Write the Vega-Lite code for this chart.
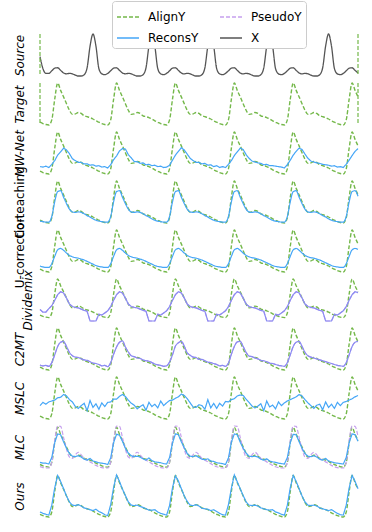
{
"$schema": "https://vega.github.io/schema/vega-lite/v6.json",
"padding": {"left": 12, "top": 0, "right": 5, "bottom": 5},
"bounds": "flush",
"datasets": {
"edges": [{"x": 0}, {"x": 108}],
"main": [
{"x":0,"X":0.48,"A":0.1,"mw":0.2,"co":0.08,"uc":0.17,"dm":0.23,"c2":0.15,"ms":0.33,"ml":0.15,"mp":0.05,"ou":0.15},
{"x":1,"X":0.2,"A":0.07,"mw":0.19,"co":0.07,"uc":0.15,"dm":0.17,"c2":0.13,"ms":0.4,"ml":0.13,"mp":0.03,"ou":0.12},
{"x":2,"X":0.09,"A":0.05,"mw":0.21,"co":0.06,"uc":0.14,"dm":0.17,"c2":0.14,"ms":0.36,"ml":0.13,"mp":0.02,"ou":0.1},
{"x":3,"X":0.09,"A":0.04,"mw":0.18,"co":0.06,"uc":0.14,"dm":0.25,"c2":0.12,"ms":0.41,"ml":0.11,"mp":0.02,"ou":0.08},
{"x":4,"X":0.15,"A":0.15,"mw":0.25,"co":0.18,"uc":0.22,"dm":0.32,"c2":0.2,"ms":0.43,"ml":0.26,"mp":0.15,"ou":0.3},
{"x":5,"X":0.21,"A":0.6,"mw":0.33,"co":0.5,"uc":0.38,"dm":0.45,"c2":0.37,"ms":0.45,"ml":0.6,"mp":0.65,"ou":0.68},
{"x":6,"X":0.22,"A":0.95,"mw":0.45,"co":0.72,"uc":0.52,"dm":0.58,"c2":0.55,"ms":0.5,"ml":0.8,"mp":0.98,"ou":0.95},
{"x":7,"X":0.16,"A":0.79,"mw":0.52,"co":0.74,"uc":0.55,"dm":0.65,"c2":0.64,"ms":0.51,"ml":0.78,"mp":0.97,"ou":0.82},
{"x":8,"X":0.1,"A":0.65,"mw":0.6,"co":0.6,"uc":0.51,"dm":0.62,"c2":0.66,"ms":0.57,"ml":0.62,"mp":0.72,"ou":0.66},
{"x":9,"X":0.08,"A":0.5,"mw":0.56,"co":0.46,"uc":0.45,"dm":0.5,"c2":0.55,"ms":0.54,"ml":0.47,"mp":0.45,"ou":0.5},
{"x":10,"X":0.09,"A":0.36,"mw":0.48,"co":0.34,"uc":0.4,"dm":0.36,"c2":0.42,"ms":0.46,"ml":0.35,"mp":0.27,"ou":0.37},
{"x":11,"X":0.08,"A":0.27,"mw":0.37,"co":0.28,"uc":0.37,"dm":0.3,"c2":0.35,"ms":0.41,"ml":0.29,"mp":0.24,"ou":0.3},
{"x":12,"X":0.05,"A":0.28,"mw":0.33,"co":0.27,"uc":0.35,"dm":0.28,"c2":0.32,"ms":0.31,"ml":0.28,"mp":0.32,"ou":0.29},
{"x":13,"X":0.03,"A":0.31,"mw":0.29,"co":0.28,"uc":0.34,"dm":0.27,"c2":0.31,"ms":0.27,"ml":0.3,"mp":0.38,"ou":0.31},
{"x":14,"X":0.03,"A":0.29,"mw":0.29,"co":0.27,"uc":0.32,"dm":0.24,"c2":0.28,"ms":0.33,"ml":0.27,"mp":0.32,"ou":0.28},
{"x":15,"X":0.06,"A":0.24,"mw":0.26,"co":0.24,"uc":0.3,"dm":0.21,"c2":0.26,"ms":0.38,"ml":0.22,"mp":0.24,"ou":0.24},
{"x":16,"X":0.22,"A":0.22,"mw":0.26,"co":0.2,"uc":0.27,"dm":0.19,"c2":0.25,"ms":0.22,"ml":0.2,"mp":0.2,"ou":0.22},
{"x":17,"X":0.72,"A":0.2,"mw":0.23,"co":0.17,"uc":0.24,"dm":-0.04,"c2":0.22,"ms":0.44,"ml":0.24,"mp":0.16,"ou":0.2},
{"x":18,"X":1.0,"A":0.17,"mw":0.24,"co":0.13,"uc":0.21,"dm":-0.04,"c2":0.19,"ms":0.29,"ml":0.18,"mp":0.12,"ou":0.18},
{"x":19,"X":0.72,"A":0.13,"mw":0.21,"co":0.1,"uc":0.18,"dm":-0.04,"c2":0.18,"ms":0.37,"ml":0.16,"mp":0.08,"ou":0.21},
{"x":20,"X":0.2,"A":0.1,"mw":0.22,"co":0.08,"uc":0.16,"dm":0.12,"c2":0.16,"ms":0.25,"ml":0.14,"mp":0.05,"ou":0.16},
{"x":21,"X":0.08,"A":0.07,"mw":0.19,"co":0.07,"uc":0.15,"dm":0.1,"c2":0.13,"ms":0.39,"ml":0.13,"mp":0.03,"ou":0.13},
{"x":22,"X":0.06,"A":0.05,"mw":0.2,"co":0.06,"uc":0.14,"dm":0.15,"c2":0.14,"ms":0.31,"ml":0.12,"mp":0.02,"ou":0.09},
{"x":23,"X":0.09,"A":0.04,"mw":0.17,"co":0.06,"uc":0.14,"dm":0.2,"c2":0.11,"ms":0.4,"ml":0.1,"mp":0.02,"ou":0.07},
{"x":24,"X":0.15,"A":0.15,"mw":0.24,"co":0.18,"uc":0.22,"dm":0.3,"c2":0.2,"ms":0.41,"ml":0.25,"mp":0.15,"ou":0.31},
{"x":25,"X":0.21,"A":0.6,"mw":0.35,"co":0.5,"uc":0.38,"dm":0.45,"c2":0.38,"ms":0.47,"ml":0.6,"mp":0.65,"ou":0.69},
{"x":26,"X":0.22,"A":0.95,"mw":0.43,"co":0.72,"uc":0.52,"dm":0.58,"c2":0.54,"ms":0.47,"ml":0.79,"mp":0.98,"ou":0.96},
{"x":27,"X":0.16,"A":0.79,"mw":0.54,"co":0.74,"uc":0.55,"dm":0.65,"c2":0.64,"ms":0.53,"ml":0.77,"mp":0.97,"ou":0.82},
{"x":28,"X":0.1,"A":0.65,"mw":0.59,"co":0.6,"uc":0.51,"dm":0.62,"c2":0.67,"ms":0.57,"ml":0.63,"mp":0.72,"ou":0.65},
{"x":29,"X":0.08,"A":0.5,"mw":0.58,"co":0.46,"uc":0.45,"dm":0.5,"c2":0.54,"ms":0.53,"ml":0.47,"mp":0.45,"ou":0.51},
{"x":30,"X":0.09,"A":0.36,"mw":0.46,"co":0.34,"uc":0.4,"dm":0.36,"c2":0.43,"ms":0.45,"ml":0.36,"mp":0.27,"ou":0.37},
{"x":31,"X":0.08,"A":0.27,"mw":0.39,"co":0.28,"uc":0.37,"dm":0.3,"c2":0.35,"ms":0.38,"ml":0.3,"mp":0.24,"ou":0.3},
{"x":32,"X":0.05,"A":0.28,"mw":0.31,"co":0.27,"uc":0.35,"dm":0.28,"c2":0.33,"ms":0.34,"ml":0.28,"mp":0.32,"ou":0.29},
{"x":33,"X":0.03,"A":0.31,"mw":0.31,"co":0.28,"uc":0.34,"dm":0.27,"c2":0.3,"ms":0.26,"ml":0.29,"mp":0.38,"ou":0.3},
{"x":34,"X":0.03,"A":0.29,"mw":0.27,"co":0.27,"uc":0.32,"dm":0.24,"c2":0.29,"ms":0.31,"ml":0.27,"mp":0.32,"ou":0.27},
{"x":35,"X":0.06,"A":0.24,"mw":0.28,"co":0.24,"uc":0.3,"dm":0.21,"c2":0.26,"ms":0.35,"ml":0.23,"mp":0.24,"ou":0.25},
{"x":36,"X":0.22,"A":0.22,"mw":0.24,"co":0.2,"uc":0.27,"dm":0.19,"c2":0.24,"ms":0.23,"ml":0.2,"mp":0.2,"ou":0.22},
{"x":37,"X":0.72,"A":0.2,"mw":0.25,"co":0.17,"uc":0.24,"dm":-0.04,"c2":0.23,"ms":0.4,"ml":0.25,"mp":0.16,"ou":0.19},
{"x":38,"X":1.0,"A":0.17,"mw":0.22,"co":0.13,"uc":0.21,"dm":-0.04,"c2":0.2,"ms":0.31,"ml":0.19,"mp":0.12,"ou":0.19},
{"x":39,"X":0.72,"A":0.13,"mw":0.23,"co":0.1,"uc":0.18,"dm":-0.04,"c2":0.17,"ms":0.36,"ml":0.16,"mp":0.08,"ou":0.2},
{"x":40,"X":0.2,"A":0.1,"mw":0.2,"co":0.08,"uc":0.16,"dm":0.12,"c2":0.15,"ms":0.28,"ml":0.15,"mp":0.05,"ou":0.15},
{"x":41,"X":0.08,"A":0.07,"mw":0.21,"co":0.07,"uc":0.15,"dm":0.1,"c2":0.14,"ms":0.43,"ml":0.14,"mp":0.03,"ou":0.12},
{"x":42,"X":0.06,"A":0.05,"mw":0.18,"co":0.06,"uc":0.14,"dm":0.15,"c2":0.12,"ms":0.33,"ml":0.12,"mp":0.02,"ou":0.1},
{"x":43,"X":0.09,"A":0.04,"mw":0.19,"co":0.06,"uc":0.14,"dm":0.2,"c2":0.13,"ms":0.39,"ml":0.11,"mp":0.02,"ou":0.08},
{"x":44,"X":0.15,"A":0.15,"mw":0.23,"co":0.18,"uc":0.22,"dm":0.3,"c2":0.21,"ms":0.44,"ml":0.26,"mp":0.15,"ou":0.29},
{"x":45,"X":0.21,"A":0.6,"mw":0.34,"co":0.5,"uc":0.38,"dm":0.45,"c2":0.37,"ms":0.45,"ml":0.59,"mp":0.65,"ou":0.68},
{"x":46,"X":0.22,"A":0.95,"mw":0.45,"co":0.72,"uc":0.52,"dm":0.58,"c2":0.56,"ms":0.49,"ml":0.8,"mp":0.98,"ou":0.94},
{"x":47,"X":0.16,"A":0.79,"mw":0.53,"co":0.74,"uc":0.55,"dm":0.65,"c2":0.63,"ms":0.52,"ml":0.78,"mp":0.97,"ou":0.83},
{"x":48,"X":0.1,"A":0.65,"mw":0.61,"co":0.6,"uc":0.51,"dm":0.62,"c2":0.66,"ms":0.58,"ml":0.62,"mp":0.72,"ou":0.66},
{"x":49,"X":0.08,"A":0.5,"mw":0.56,"co":0.46,"uc":0.45,"dm":0.5,"c2":0.56,"ms":0.55,"ml":0.48,"mp":0.45,"ou":0.5},
{"x":50,"X":0.09,"A":0.36,"mw":0.47,"co":0.34,"uc":0.4,"dm":0.36,"c2":0.41,"ms":0.48,"ml":0.35,"mp":0.27,"ou":0.38},
{"x":51,"X":0.08,"A":0.27,"mw":0.38,"co":0.28,"uc":0.37,"dm":0.3,"c2":0.36,"ms":0.39,"ml":0.29,"mp":0.24,"ou":0.3},
{"x":52,"X":0.05,"A":0.28,"mw":0.33,"co":0.27,"uc":0.35,"dm":0.28,"c2":0.32,"ms":0.3,"ml":0.28,"mp":0.32,"ou":0.29},
{"x":53,"X":0.03,"A":0.31,"mw":0.29,"co":0.28,"uc":0.34,"dm":0.27,"c2":0.31,"ms":0.29,"ml":0.3,"mp":0.38,"ou":0.31},
{"x":54,"X":0.03,"A":0.29,"mw":0.29,"co":0.27,"uc":0.32,"dm":0.24,"c2":0.27,"ms":0.35,"ml":0.26,"mp":0.32,"ou":0.28},
{"x":55,"X":0.06,"A":0.24,"mw":0.26,"co":0.24,"uc":0.3,"dm":0.21,"c2":0.27,"ms":0.33,"ml":0.22,"mp":0.24,"ou":0.23},
{"x":56,"X":0.22,"A":0.22,"mw":0.27,"co":0.2,"uc":0.27,"dm":0.19,"c2":0.24,"ms":0.25,"ml":0.21,"mp":0.2,"ou":0.22},
{"x":57,"X":0.72,"A":0.2,"mw":0.23,"co":0.17,"uc":0.24,"dm":-0.04,"c2":0.21,"ms":0.46,"ml":0.23,"mp":0.16,"ou":0.21},
{"x":58,"X":1.0,"A":0.17,"mw":0.24,"co":0.13,"uc":0.21,"dm":-0.04,"c2":0.2,"ms":0.28,"ml":0.18,"mp":0.12,"ou":0.18},
{"x":59,"X":0.72,"A":0.13,"mw":0.2,"co":0.1,"uc":0.18,"dm":-0.04,"c2":0.18,"ms":0.38,"ml":0.17,"mp":0.08,"ou":0.2},
{"x":60,"X":0.2,"A":0.1,"mw":0.22,"co":0.08,"uc":0.16,"dm":0.12,"c2":0.16,"ms":0.27,"ml":0.14,"mp":0.05,"ou":0.16},
{"x":61,"X":0.08,"A":0.07,"mw":0.18,"co":0.07,"uc":0.15,"dm":0.1,"c2":0.13,"ms":0.38,"ml":0.13,"mp":0.03,"ou":0.12},
{"x":62,"X":0.06,"A":0.05,"mw":0.2,"co":0.06,"uc":0.14,"dm":0.15,"c2":0.14,"ms":0.32,"ml":0.12,"mp":0.02,"ou":0.09},
{"x":63,"X":0.09,"A":0.04,"mw":0.18,"co":0.06,"uc":0.14,"dm":0.2,"c2":0.12,"ms":0.42,"ml":0.1,"mp":0.02,"ou":0.08},
{"x":64,"X":0.15,"A":0.15,"mw":0.25,"co":0.18,"uc":0.22,"dm":0.3,"c2":0.19,"ms":0.41,"ml":0.25,"mp":0.15,"ou":0.31},
{"x":65,"X":0.21,"A":0.6,"mw":0.33,"co":0.5,"uc":0.38,"dm":0.45,"c2":0.38,"ms":0.46,"ml":0.61,"mp":0.65,"ou":0.67},
{"x":66,"X":0.22,"A":0.95,"mw":0.44,"co":0.72,"uc":0.52,"dm":0.58,"c2":0.55,"ms":0.48,"ml":0.8,"mp":0.98,"ou":0.96},
{"x":67,"X":0.16,"A":0.79,"mw":0.52,"co":0.74,"uc":0.55,"dm":0.65,"c2":0.65,"ms":0.54,"ml":0.78,"mp":0.97,"ou":0.81},
{"x":68,"X":0.1,"A":0.65,"mw":0.6,"co":0.6,"uc":0.51,"dm":0.62,"c2":0.66,"ms":0.56,"ml":0.61,"mp":0.72,"ou":0.66},
{"x":69,"X":0.08,"A":0.5,"mw":0.57,"co":0.46,"uc":0.45,"dm":0.5,"c2":0.55,"ms":0.55,"ml":0.47,"mp":0.45,"ou":0.51},
{"x":70,"X":0.09,"A":0.36,"mw":0.46,"co":0.34,"uc":0.4,"dm":0.36,"c2":0.42,"ms":0.47,"ml":0.36,"mp":0.27,"ou":0.37},
{"x":71,"X":0.08,"A":0.27,"mw":0.38,"co":0.28,"uc":0.37,"dm":0.3,"c2":0.34,"ms":0.4,"ml":0.29,"mp":0.24,"ou":0.3},
{"x":72,"X":0.05,"A":0.28,"mw":0.32,"co":0.27,"uc":0.35,"dm":0.28,"c2":0.33,"ms":0.32,"ml":0.28,"mp":0.32,"ou":0.29},
{"x":73,"X":0.03,"A":0.31,"mw":0.3,"co":0.28,"uc":0.34,"dm":0.27,"c2":0.3,"ms":0.28,"ml":0.29,"mp":0.38,"ou":0.3},
{"x":74,"X":0.03,"A":0.29,"mw":0.28,"co":0.27,"uc":0.32,"dm":0.24,"c2":0.28,"ms":0.32,"ml":0.27,"mp":0.32,"ou":0.28},
{"x":75,"X":0.06,"A":0.24,"mw":0.27,"co":0.24,"uc":0.3,"dm":0.21,"c2":0.25,"ms":0.37,"ml":0.22,"mp":0.24,"ou":0.24},
{"x":76,"X":0.22,"A":0.22,"mw":0.24,"co":0.2,"uc":0.27,"dm":0.19,"c2":0.24,"ms":0.22,"ml":0.2,"mp":0.2,"ou":0.22},
{"x":77,"X":0.72,"A":0.2,"mw":0.25,"co":0.17,"uc":0.24,"dm":-0.04,"c2":0.22,"ms":0.43,"ml":0.23,"mp":0.16,"ou":0.2},
{"x":78,"X":1.0,"A":0.17,"mw":0.22,"co":0.13,"uc":0.21,"dm":-0.04,"c2":0.19,"ms":0.3,"ml":0.18,"mp":0.12,"ou":0.19},
{"x":79,"X":0.72,"A":0.13,"mw":0.22,"co":0.1,"uc":0.18,"dm":-0.04,"c2":0.18,"ms":0.34,"ml":0.16,"mp":0.08,"ou":0.2},
{"x":80,"X":0.2,"A":0.1,"mw":0.21,"co":0.08,"uc":0.16,"dm":0.12,"c2":0.16,"ms":0.26,"ml":0.15,"mp":0.05,"ou":0.15},
{"x":81,"X":0.08,"A":0.07,"mw":0.2,"co":0.07,"uc":0.15,"dm":0.1,"c2":0.14,"ms":0.41,"ml":0.13,"mp":0.03,"ou":0.13},
{"x":82,"X":0.06,"A":0.05,"mw":0.19,"co":0.06,"uc":0.14,"dm":0.15,"c2":0.13,"ms":0.33,"ml":0.12,"mp":0.02,"ou":0.1},
{"x":83,"X":0.09,"A":0.04,"mw":0.17,"co":0.06,"uc":0.14,"dm":0.2,"c2":0.12,"ms":0.39,"ml":0.11,"mp":0.02,"ou":0.08},
{"x":84,"X":0.15,"A":0.15,"mw":0.24,"co":0.18,"uc":0.22,"dm":0.3,"c2":0.2,"ms":0.43,"ml":0.26,"mp":0.15,"ou":0.3},
{"x":85,"X":0.21,"A":0.6,"mw":0.34,"co":0.5,"uc":0.38,"dm":0.45,"c2":0.37,"ms":0.46,"ml":0.6,"mp":0.65,"ou":0.68},
{"x":86,"X":0.22,"A":0.95,"mw":0.45,"co":0.72,"uc":0.52,"dm":0.58,"c2":0.55,"ms":0.49,"ml":0.79,"mp":0.98,"ou":0.95},
{"x":87,"X":0.16,"A":0.79,"mw":0.53,"co":0.74,"uc":0.55,"dm":0.65,"c2":0.64,"ms":0.52,"ml":0.78,"mp":0.97,"ou":0.82},
{"x":88,"X":0.1,"A":0.65,"mw":0.6,"co":0.6,"uc":0.51,"dm":0.62,"c2":0.66,"ms":0.57,"ml":0.62,"mp":0.72,"ou":0.66},
{"x":89,"X":0.08,"A":0.5,"mw":0.57,"co":0.46,"uc":0.45,"dm":0.5,"c2":0.55,"ms":0.54,"ml":0.47,"mp":0.45,"ou":0.5},
{"x":90,"X":0.09,"A":0.36,"mw":0.47,"co":0.34,"uc":0.4,"dm":0.36,"c2":0.42,"ms":0.46,"ml":0.35,"mp":0.27,"ou":0.37},
{"x":91,"X":0.08,"A":0.27,"mw":0.38,"co":0.28,"uc":0.37,"dm":0.3,"c2":0.35,"ms":0.39,"ml":0.29,"mp":0.24,"ou":0.3},
{"x":92,"X":0.05,"A":0.28,"mw":0.32,"co":0.27,"uc":0.35,"dm":0.28,"c2":0.32,"ms":0.33,"ml":0.28,"mp":0.32,"ou":0.29},
{"x":93,"X":0.03,"A":0.31,"mw":0.3,"co":0.28,"uc":0.34,"dm":0.27,"c2":0.3,"ms":0.27,"ml":0.3,"mp":0.38,"ou":0.3},
{"x":94,"X":0.03,"A":0.29,"mw":0.28,"co":0.27,"uc":0.32,"dm":0.24,"c2":0.28,"ms":0.34,"ml":0.27,"mp":0.32,"ou":0.28},
{"x":95,"X":0.06,"A":0.24,"mw":0.27,"co":0.24,"uc":0.3,"dm":0.21,"c2":0.26,"ms":0.36,"ml":0.22,"mp":0.24,"ou":0.24},
{"x":96,"X":0.22,"A":0.22,"mw":0.25,"co":0.2,"uc":0.27,"dm":0.19,"c2":0.24,"ms":0.24,"ml":0.2,"mp":0.2,"ou":0.22},
{"x":97,"X":0.72,"A":0.2,"mw":0.24,"co":0.17,"uc":0.24,"dm":-0.04,"c2":0.22,"ms":0.41,"ml":0.24,"mp":0.16,"ou":0.2},
{"x":98,"X":1.0,"A":0.17,"mw":0.23,"co":0.13,"uc":0.21,"dm":-0.04,"c2":0.2,"ms":0.29,"ml":0.18,"mp":0.12,"ou":0.18},
{"x":99,"X":0.72,"A":0.13,"mw":0.21,"co":0.1,"uc":0.18,"dm":-0.04,"c2":0.18,"ms":0.36,"ml":0.16,"mp":0.08,"ou":0.2},
{"x":100,"X":0.2,"A":0.1,"mw":0.22,"co":0.08,"uc":0.16,"dm":0.12,"c2":0.16,"ms":0.27,"ml":0.14,"mp":0.05,"ou":0.16},
{"x":101,"X":0.08,"A":0.07,"mw":0.19,"co":0.07,"uc":0.15,"dm":0.1,"c2":0.14,"ms":0.4,"ml":0.13,"mp":0.03,"ou":0.12},
{"x":102,"X":0.06,"A":0.05,"mw":0.2,"co":0.06,"uc":0.14,"dm":0.15,"c2":0.13,"ms":0.33,"ml":0.12,"mp":0.02,"ou":0.09},
{"x":103,"X":0.09,"A":0.04,"mw":0.18,"co":0.06,"uc":0.14,"dm":0.2,"c2":0.12,"ms":0.4,"ml":0.11,"mp":0.02,"ou":0.08},
{"x":104,"X":0.15,"A":0.15,"mw":0.25,"co":0.18,"uc":0.22,"dm":0.3,"c2":0.2,"ms":0.42,"ml":0.26,"mp":0.15,"ou":0.3},
{"x":105,"X":0.21,"A":0.6,"mw":0.34,"co":0.5,"uc":0.38,"dm":0.45,"c2":0.37,"ms":0.45,"ml":0.6,"mp":0.65,"ou":0.68},
{"x":106,"X":0.22,"A":0.95,"mw":0.44,"co":0.72,"uc":0.52,"dm":0.58,"c2":0.55,"ms":0.48,"ml":0.8,"mp":0.98,"ou":0.95},
{"x":107,"X":0.16,"A":0.79,"mw":0.53,"co":0.74,"uc":0.55,"dm":0.65,"c2":0.64,"ms":0.52,"ml":0.78,"mp":0.97,"ou":0.82},
{"x":108,"X":0.1,"A":0.65,"mw":0.59,"co":0.62,"uc":0.53,"dm":0.63,"c2":0.66,"ms":0.55,"ml":0.63,"mp":0.74,"ou":0.66}
]
},
"data": {"name": "main"},
"resolve": {"scale": {"y": "independent", "x": "shared", "color": "shared", "strokeDash": "shared"}},
"vconcat": [
{"width": 318, "height": 42,
 "encoding": {"x": {"field": "x", "type": "quantitative", "axis": null, "scale": {"domain": [0, 108], "nice": false, "zero": false}}},
 "layer": [
  {"mark": {"type": "line", "strokeWidth": 1.3, "interpolate": "monotone"},
   "encoding": {"y": {"field": "X", "type": "quantitative", "title": "Source", "scale": {"zero": false, "nice": false}},
    "color": {"datum": "X", "type": "nominal", "scale": {"domain": ["AlignY","ReconsY","PseudoY","X"], "range": ["#74b84a","#45a6f7","#c6a0ee","#555555"]}},
    "strokeDash": {"datum": "X", "type": "nominal", "scale": {"domain": ["AlignY","ReconsY","PseudoY","X"], "range": [[4,2],[1,0],[4,2],[1,0]]}}}},
  {"data": {"name": "edges"}, "mark": {"type": "rule", "strokeWidth": 1.2, "color": "#74b84a", "strokeDash": [4, 2]}, "encoding": {}}
 ]},
{"width": 318, "height": 42,
 "encoding": {"x": {"field": "x", "type": "quantitative", "axis": null, "scale": {"domain": [0, 108], "nice": false, "zero": false}}},
 "layer": [
  {"mark": {"type": "line", "strokeWidth": 1.4, "interpolate": "monotone"},
   "encoding": {"y": {"field": "A", "type": "quantitative", "title": "Target", "scale": {"zero": false, "nice": false}},
    "color": {"datum": "AlignY", "type": "nominal"}, "strokeDash": {"datum": "AlignY", "type": "nominal"}}},
  {"data": {"name": "edges"}, "mark": {"type": "rule", "strokeWidth": 1.2, "color": "#74b84a", "strokeDash": [4, 2]}, "encoding": {}}
 ]},
{"width": 318, "height": 42,
 "encoding": {"x": {"field": "x", "type": "quantitative", "axis": null, "scale": {"domain": [0, 108], "nice": false, "zero": false}}},
 "layer": [
  {"mark": {"type": "line", "strokeWidth": 1.4, "interpolate": "monotone"},
   "encoding": {"y": {"field": "A", "type": "quantitative", "title": "MW-Net", "scale": {"zero": false, "nice": false}},
    "color": {"datum": "AlignY", "type": "nominal"}, "strokeDash": {"datum": "AlignY", "type": "nominal"}}},
  {"mark": {"type": "line", "strokeWidth": 1.2},
   "encoding": {"y": {"field": "mw", "type": "quantitative", "title": "MW-Net"},
    "color": {"datum": "ReconsY", "type": "nominal"}, "strokeDash": {"datum": "ReconsY", "type": "nominal"}}}
 ]},
{"width": 318, "height": 42,
 "encoding": {"x": {"field": "x", "type": "quantitative", "axis": null, "scale": {"domain": [0, 108], "nice": false, "zero": false}}},
 "layer": [
  {"mark": {"type": "line", "strokeWidth": 1.4, "interpolate": "monotone"},
   "encoding": {"y": {"field": "A", "type": "quantitative", "title": "Co-teaching", "axis": {"titleFontStyle": "normal"}, "scale": {"zero": false, "nice": false}},
    "color": {"datum": "AlignY", "type": "nominal"}, "strokeDash": {"datum": "AlignY", "type": "nominal"}}},
  {"mark": {"type": "line", "strokeWidth": 1.2, "interpolate": "monotone"},
   "encoding": {"y": {"field": "co", "type": "quantitative", "title": "Co-teaching"},
    "color": {"datum": "ReconsY", "type": "nominal"}, "strokeDash": {"datum": "ReconsY", "type": "nominal"}}}
 ]},
{"width": 318, "height": 42,
 "encoding": {"x": {"field": "x", "type": "quantitative", "axis": null, "scale": {"domain": [0, 108], "nice": false, "zero": false}}},
 "layer": [
  {"mark": {"type": "line", "strokeWidth": 1.4, "interpolate": "monotone"},
   "encoding": {"y": {"field": "A", "type": "quantitative", "title": "U-correction", "axis": {"titleFontStyle": "normal"}, "scale": {"zero": false, "nice": false}},
    "color": {"datum": "AlignY", "type": "nominal"}, "strokeDash": {"datum": "AlignY", "type": "nominal"}}},
  {"mark": {"type": "line", "strokeWidth": 1.2, "interpolate": "monotone"},
   "encoding": {"y": {"field": "uc", "type": "quantitative", "title": "U-correction"},
    "color": {"datum": "ReconsY", "type": "nominal"}, "strokeDash": {"datum": "ReconsY", "type": "nominal"}}}
 ]},
{"width": 318, "height": 42,
 "encoding": {"x": {"field": "x", "type": "quantitative", "axis": null, "scale": {"domain": [0, 108], "nice": false, "zero": false}}},
 "layer": [
  {"mark": {"type": "line", "strokeWidth": 1.4, "interpolate": "monotone"},
   "encoding": {"y": {"field": "A", "type": "quantitative", "title": "Dividemix", "axis": {"titlePadding": 6}, "scale": {"zero": false, "nice": false}},
    "color": {"datum": "AlignY", "type": "nominal"}, "strokeDash": {"datum": "AlignY", "type": "nominal"}}},
  {"mark": {"type": "line", "strokeWidth": 1.2},
   "encoding": {"y": {"field": "dm", "type": "quantitative", "title": "Dividemix"},
    "color": {"datum": "PseudoY", "type": "nominal"}, "strokeDash": {"datum": "PseudoY", "type": "nominal"}}},
  {"mark": {"type": "line", "strokeWidth": 1.2, "color": "#8a8cf2"},
   "encoding": {"y": {"field": "dm", "type": "quantitative", "title": "Dividemix"}}}
 ]},
{"width": 318, "height": 42,
 "encoding": {"x": {"field": "x", "type": "quantitative", "axis": null, "scale": {"domain": [0, 108], "nice": false, "zero": false}}},
 "layer": [
  {"mark": {"type": "line", "strokeWidth": 1.4, "interpolate": "monotone"},
   "encoding": {"y": {"field": "A", "type": "quantitative", "title": "C2MT", "scale": {"zero": false, "nice": false}},
    "color": {"datum": "AlignY", "type": "nominal"}, "strokeDash": {"datum": "AlignY", "type": "nominal"}}},
  {"mark": {"type": "line", "strokeWidth": 1.2, "interpolate": "monotone"},
   "encoding": {"y": {"field": "c2", "type": "quantitative", "title": "C2MT"},
    "color": {"datum": "PseudoY", "type": "nominal"}, "strokeDash": {"datum": "PseudoY", "type": "nominal"}}},
  {"mark": {"type": "line", "strokeWidth": 1.2, "color": "#8a8cf2", "interpolate": "monotone"},
   "encoding": {"y": {"field": "c2", "type": "quantitative", "title": "C2MT"}}}
 ]},
{"width": 318, "height": 42,
 "encoding": {"x": {"field": "x", "type": "quantitative", "axis": null, "scale": {"domain": [0, 108], "nice": false, "zero": false}}},
 "layer": [
  {"mark": {"type": "line", "strokeWidth": 1.4, "interpolate": "monotone"},
   "encoding": {"y": {"field": "A", "type": "quantitative", "title": "MSLC", "scale": {"zero": false, "nice": false}},
    "color": {"datum": "AlignY", "type": "nominal"}, "strokeDash": {"datum": "AlignY", "type": "nominal"}}},
  {"mark": {"type": "line", "strokeWidth": 1.2},
   "encoding": {"y": {"field": "ms", "type": "quantitative", "title": "MSLC"},
    "color": {"datum": "ReconsY", "type": "nominal"}, "strokeDash": {"datum": "ReconsY", "type": "nominal"}}}
 ]},
{"width": 318, "height": 42,
 "encoding": {"x": {"field": "x", "type": "quantitative", "axis": null, "scale": {"domain": [0, 108], "nice": false, "zero": false}}},
 "layer": [
  {"mark": {"type": "line", "strokeWidth": 1.4, "interpolate": "monotone"},
   "encoding": {"y": {"field": "A", "type": "quantitative", "title": "MLC", "scale": {"zero": false, "nice": false}},
    "color": {"datum": "AlignY", "type": "nominal"}, "strokeDash": {"datum": "AlignY", "type": "nominal"}}},
  {"mark": {"type": "line", "strokeWidth": 1.2, "interpolate": "monotone"},
   "encoding": {"y": {"field": "mp", "type": "quantitative", "title": "MLC"},
    "color": {"datum": "PseudoY", "type": "nominal"}, "strokeDash": {"datum": "PseudoY", "type": "nominal"}}},
  {"mark": {"type": "line", "strokeWidth": 1.2},
   "encoding": {"y": {"field": "ml", "type": "quantitative", "title": "MLC"},
    "color": {"datum": "ReconsY", "type": "nominal"}, "strokeDash": {"datum": "ReconsY", "type": "nominal"}}}
 ]},
{"width": 318, "height": 42,
 "encoding": {"x": {"field": "x", "type": "quantitative", "axis": null, "scale": {"domain": [0, 108], "nice": false, "zero": false}}},
 "layer": [
  {"mark": {"type": "line", "strokeWidth": 1.4, "interpolate": "monotone"},
   "encoding": {"y": {"field": "A", "type": "quantitative", "title": "Ours", "scale": {"zero": false, "nice": false}},
    "color": {"datum": "AlignY", "type": "nominal"}, "strokeDash": {"datum": "AlignY", "type": "nominal"}}},
  {"mark": {"type": "line", "strokeWidth": 1.2},
   "encoding": {"y": {"field": "ou", "type": "quantitative", "title": "Ours"},
    "color": {"datum": "ReconsY", "type": "nominal"}, "strokeDash": {"datum": "ReconsY", "type": "nominal"}}}
 ]}
],
"config": {
 "font": "DejaVu Sans",
 "view": {"stroke": null},
 "concat": {"spacing": 7},
 "axisY": {"domain": false, "ticks": false, "labels": false, "grid": false, "titleFont": "DejaVu Sans", "titleFontSize": 12, "titleFontWeight": "normal", "titleFontStyle": "italic", "titleColor": "#000000", "titlePadding": 14},
 "legend": {"orient": "none", "legendX": 72, "legendY": -33, "columns": 2, "gridAlign": "all", "symbolType": "stroke", "symbolSize": 484, "symbolStrokeWidth": 1.5, "labelFont": "DejaVu Sans", "labelFontSize": 12, "labelColor": "#000000", "labelAlign": "left", "labelOffset": 8, "columnPadding": 18, "rowPadding": 3, "padding": 4, "strokeColor": "#cccccc", "cornerRadius": 3, "fillColor": "#ffffff"}
}
}
